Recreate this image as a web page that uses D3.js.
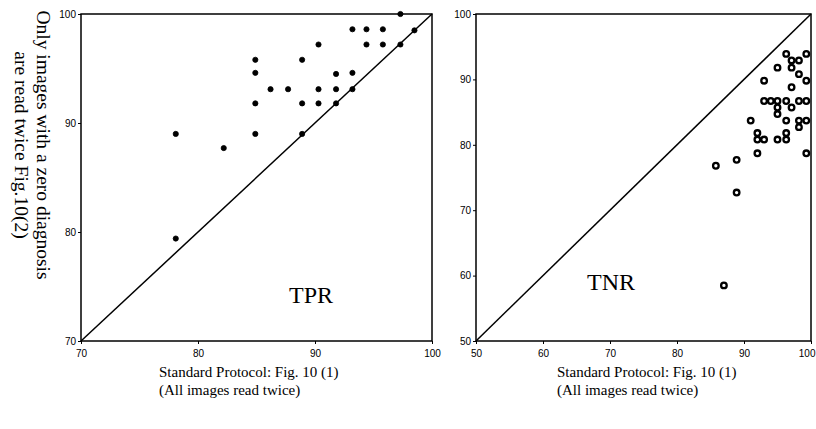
<!DOCTYPE html>
<html>
<head>
<meta charset="utf-8">
<script src="https://cdn.jsdelivr.net/npm/d3@7/dist/d3.min.js"></script>
<style>
  body { margin: 0; background: #fff; }
  svg text { fill: #000; }
  .tick text { font-family: "Liberation Sans", Arial, sans-serif; font-size: 10px; }
  .serif { font-family: "Liberation Serif", "Times New Roman", serif; }
</style>
</head>
<body>
<svg id="chart" width="816" height="429"></svg>
<script>
// TPR panel: x = standard protocol, y = zero-diagnosis protocol
const tpr_x = [78.1, 78.1, 82.2, 84.9, 84.9, 84.9, 84.9, 86.2, 87.7, 88.9, 88.9, 88.9, 90.3, 90.3,
               90.3, 91.8, 91.8, 91.8, 93.2, 93.2, 93.2, 94.4, 94.4, 95.8, 95.8, 97.3, 98.5, 97.3];
const tpr_y = [89.0, 79.4, 87.7, 95.8, 94.6, 91.8, 89.0, 93.1, 93.1, 95.8, 91.8, 89.0, 97.2, 93.1,
               91.8, 94.5, 93.1, 91.8, 98.6, 94.6, 93.1, 98.6, 97.2, 98.6, 97.2, 97.2, 98.5, 100];

// TNR panel
const tnr_x = [96.3, 99.3, 97.1, 98.2, 95.0, 97.1, 98.2, 99.3, 93.0, 97.1,
               93.0, 94.0, 95.0, 96.3, 98.2, 99.3,
               95.0, 97.1, 95.0, 91.0, 96.3, 98.2, 99.3, 98.2,
               92.0, 96.3, 92.0, 93.0, 95.0, 96.3, 92.0, 99.3,
               88.9, 85.8, 88.9, 87.0];
const tnr_y = [93.9, 93.9, 92.9, 92.9, 91.8, 91.8, 90.8, 89.8, 89.8, 88.8,
               86.7, 86.7, 86.7, 86.7, 86.7, 86.7,
               85.7, 85.7, 84.7, 83.7, 83.7, 83.7, 83.7, 82.7,
               81.8, 81.8, 80.8, 80.8, 80.8, 80.8, 78.7, 78.7,
               77.7, 76.8, 72.7, 58.5];

const tpr_ticks = [70, 80, 90, 100];
const tnr_ticks = [50, 60, 70, 80, 90, 100];

const y_label = ["Only images with a zero diagnosis", "are read twice Fig.10(2)"];
const x_label = ["Standard Protocol: Fig. 10 (1)", "(All images read twice)"];

const svg = d3.select("#chart");

function panel(opts) {
    const x = d3.scaleLinear().domain(opts.domain).range([opts.left, opts.right]);
    const y = d3.scaleLinear().domain(opts.domain).range([opts.bottom, opts.top]);
    const g = svg.append("g");

    const xa = g.append("g")
        .attr("transform", "translate(0," + opts.bottom + ")")
        .call(d3.axisBottom(x).tickValues(opts.ticks).tickSize(3).tickPadding(6))
        .call(a => a.select(".domain").remove());
    // keep the last label inside the page
    xa.selectAll(".tick text")
        .filter(d => x(d) + 12 > 816)
        .attr("text-anchor", "end")
        .attr("dx", d => (815 - x(d)) + "px");

    g.append("g")
        .attr("transform", "translate(" + opts.left + ",0)")
        .call(d3.axisLeft(y).tickValues(opts.ticks).tickSize(3).tickPadding(2))
        .call(a => a.select(".domain").remove());

    g.append("rect")
        .attr("x", opts.left).attr("y", opts.top)
        .attr("width", opts.right - opts.left).attr("height", opts.bottom - opts.top)
        .attr("fill", "none").attr("stroke", "#000").attr("stroke-width", 1.5);

    // identity line
    g.append("line")
        .attr("x1", x(opts.domain[0])).attr("y1", y(opts.domain[0]))
        .attr("x2", x(opts.domain[1])).attr("y2", y(opts.domain[1]))
        .attr("stroke", "#000").attr("stroke-width", 1.5);

    g.selectAll(".pt").data(opts.xs).enter().append("circle")
        .attr("class", "pt")
        .attr("cx", d => x(d))
        .attr("cy", (d, i) => y(opts.ys[i]))
        .attr("r", opts.hollow ? 2.8 : 2.6)
        .attr("fill", opts.hollow ? "#fff" : "#000")
        .attr("stroke", "#000")
        .attr("stroke-width", opts.hollow ? 2.3 : 0.8);

    g.append("text").attr("class", "serif")
        .attr("x", opts.nameX).attr("y", opts.nameY)
        .style("font-size", "24px")
        .text(opts.name);

    const lab = g.append("text").attr("class", "serif").style("font-size", "15px");
    x_label.forEach((t, i) => {
        lab.append("tspan").attr("x", opts.labelX).attr("y", 377 + i * 18).text(t);
    });
}

panel({ domain: [70, 100], ticks: tpr_ticks, left: 81, right: 432, top: 14, bottom: 341,
        xs: tpr_x, ys: tpr_y, hollow: false, name: "TPR", nameX: 289, nameY: 303, labelX: 159 });
panel({ domain: [50, 100], ticks: tnr_ticks, left: 476, right: 811, top: 14, bottom: 341,
        xs: tnr_x, ys: tnr_y, hollow: true, name: "TNR", nameX: 587, nameY: 290, labelX: 557 });

const yl = svg.append("text").attr("class", "serif")
    .attr("transform", "translate(37,145) rotate(90)")
    .attr("text-anchor", "middle")
    .style("font-size", "19.5px");
y_label.forEach((t, i) => {
    yl.append("tspan").attr("x", 0).attr("y", i * 22).text(t);
});
</script>
</body>
</html>
